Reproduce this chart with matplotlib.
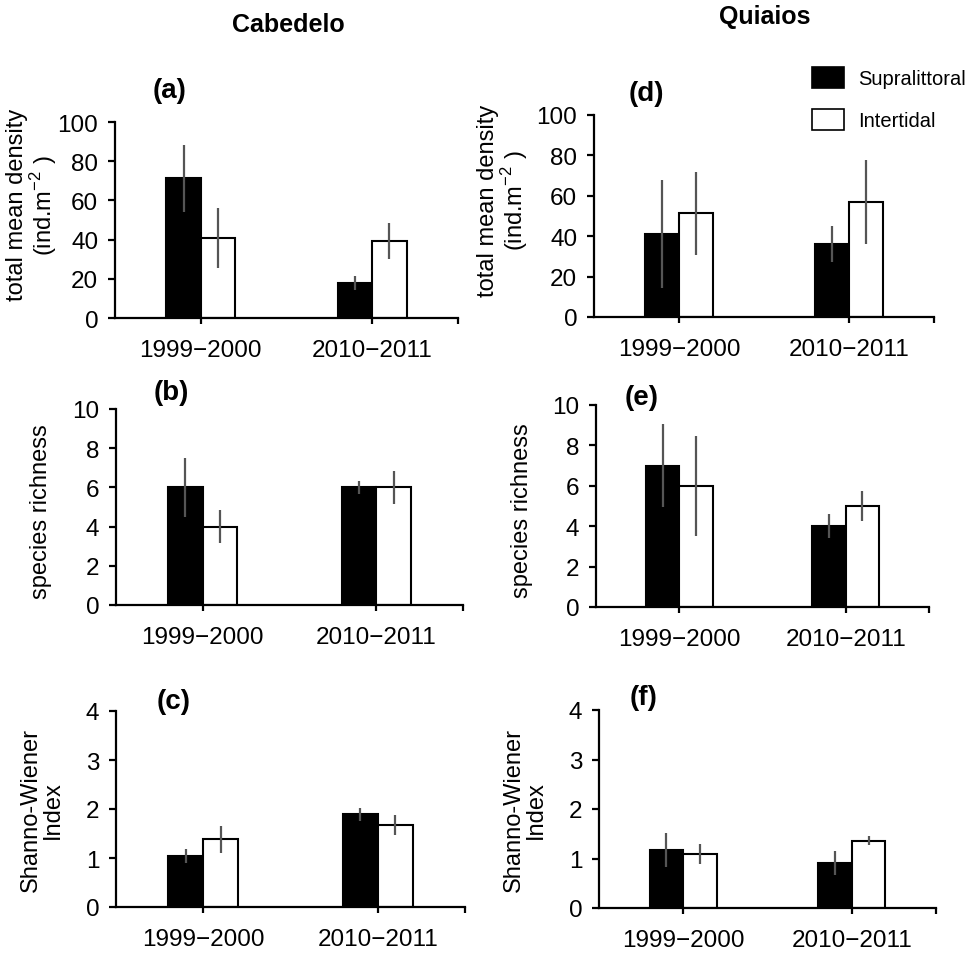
import matplotlib
matplotlib.use('Agg')
import matplotlib.pyplot as plt
from matplotlib.patches import Patch
import numpy as np

plt.rcParams['font.family'] = ['Liberation Sans', 'DejaVu Sans']

periods = ['1999\u22122000', '2010\u22122011']
series_names = ['Supralittoral', 'Intertidal']

# total mean density (ind.m-2)
dens_cab_sup = [71.3, 17.9]
dens_cab_sup_err = [17.0, 3.6]
dens_cab_int = [40.8, 39.3]
dens_cab_int_err = [15.4, 9.4]
dens_qui_sup = [41.0, 36.2]
dens_qui_sup_err = [26.7, 9.0]
dens_qui_int = [51.3, 56.9]
dens_qui_int_err = [20.4, 20.6]

# species richness
rich_cab_sup = [6.0, 6.0]
rich_cab_sup_err = [1.5, 0.32]
rich_cab_int = [4.0, 6.0]
rich_cab_int_err = [0.85, 0.84]
rich_qui_sup = [7.0, 4.0]
rich_qui_sup_err = [2.07, 0.6]
rich_qui_int = [6.0, 5.0]
rich_qui_int_err = [2.48, 0.76]

# Shannon-Wiener index
sw_cab_sup = [1.04, 1.89]
sw_cab_sup_err = [0.14, 0.13]
sw_cab_int = [1.38, 1.67]
sw_cab_int_err = [0.27, 0.20]
sw_qui_sup = [1.17, 0.91]
sw_qui_sup_err = [0.34, 0.24]
sw_qui_int = [1.09, 1.36]
sw_qui_int_err = [0.20, 0.09]

W, H = 972, 954
fig = plt.figure(figsize=(W / 100, H / 100), dpi=100)


def px_axes(left, right, top, bottom):
    return fig.add_axes([left / W, 1 - bottom / H, (right - left) / W, (bottom - top) / H])


def panel(box, sup, sup_err, itd, itd_err, ymax, ystep, ylabel, lab_x, lab_y, tag, tag_xy):
    ax = px_axes(*box)
    x = np.arange(len(periods))
    w = 0.2
    ax.bar(x - w / 2, sup, w, color='black', edgecolor='black', linewidth=1.5, zorder=2)
    ax.bar(x + w / 2, itd, w, color='white', edgecolor='black', linewidth=1.5, zorder=2)
    ax.errorbar(x - w / 2, sup, yerr=sup_err, fmt='none', ecolor='#555555', elinewidth=1.6, capsize=0, zorder=3)
    ax.errorbar(x + w / 2, itd, yerr=itd_err, fmt='none', ecolor='#555555', elinewidth=1.6, capsize=0, zorder=3)
    ax.set_xlim(-0.5, 1.5)
    ax.set_ylim(0, ymax)
    ax.set_yticks(np.arange(0, ymax + ystep / 2, ystep))
    ax.set_xticks(x)
    ax.set_xticklabels(periods)
    ax.set_xticks([1.5], minor=True)
    for s in ['top', 'right']:
        ax.spines[s].set_visible(False)
    for s in ['left', 'bottom']:
        ax.spines[s].set_linewidth(1.6)
    ax.tick_params(axis='y', length=5, width=1.6, pad=7, labelsize=17.5)
    ax.tick_params(axis='x', which='both', length=4, width=1.6, pad=11, labelsize=17.5)
    ax.set_ylabel(ylabel, fontsize=17, va='center', linespacing=1.0)
    ax.yaxis.set_label_coords(lab_x, lab_y)
    fig.text(tag_xy[0] / W, 1 - tag_xy[1] / H, tag, fontsize=20, fontweight='bold', ha='center', va='center')
    return ax


dens_label = 'total mean density\n(ind.m$^{\\mathregular{-2}}$ )'
sw_label = 'Shanno-Wiener\nIndex'

panel((115, 458, 123, 319), dens_cab_sup, dens_cab_sup_err, dens_cab_int, dens_cab_int_err,
      100, 20, dens_label, -0.24, 0.58, '(a)', (170, 91))
panel((116, 463, 410, 606), rich_cab_sup, rich_cab_sup_err, rich_cab_int, rich_cab_int_err,
      10, 2, 'species richness', -0.216, 0.48, '(b)', (171, 393))
panel((116, 465, 712, 908), sw_cab_sup, sw_cab_sup_err, sw_cab_int, sw_cab_int_err,
      4, 1, sw_label, -0.212, 0.5, '(c)', (174, 702))
panel((594, 934, 116, 318), dens_qui_sup, dens_qui_sup_err, dens_qui_int, dens_qui_int_err,
      100, 20, dens_label, -0.265, 0.58, '(d)', (646, 94))
panel((596, 929, 406, 608), rich_qui_sup, rich_qui_sup_err, rich_qui_int, rich_qui_int_err,
      10, 2, 'species richness', -0.222, 0.48, '(e)', (642, 398))
panel((599, 936, 711, 909), sw_qui_sup, sw_qui_sup_err, sw_qui_int, sw_qui_int_err,
      4, 1, sw_label, -0.22, 0.5, '(f)', (644, 698))

fig.text(288 / W, 1 - 25 / H, 'Cabedelo', fontsize=18, fontweight='bold', ha='center', va='center')
fig.text(765 / W, 1 - 17 / H, 'Quiaios', fontsize=18, fontweight='bold', ha='center', va='center')

handles = [Patch(facecolor='black', edgecolor='black', linewidth=1.2),
           Patch(facecolor='white', edgecolor='black', linewidth=1.2)]
fig.legend(handles, series_names, loc='upper left', bbox_to_anchor=(812 / W, 1 - 68 / H),
           frameon=False, fontsize=14.5, handlelength=1.6, handleheight=1.2,
           labelspacing=1.05, handletextpad=0.7, borderpad=0, borderaxespad=0)

fig.savefig('out.png', dpi=100)
